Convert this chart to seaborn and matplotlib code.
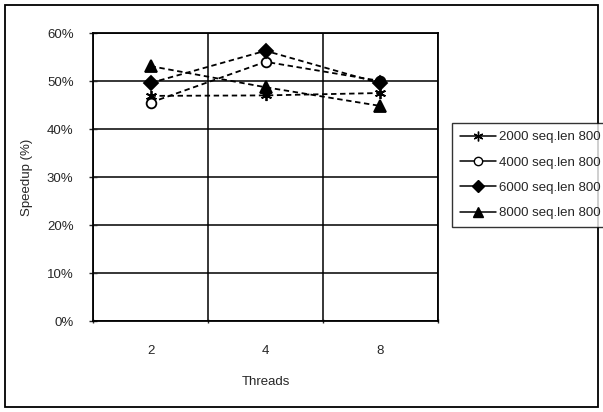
import matplotlib
matplotlib.use("Agg")
import matplotlib.pyplot as plt
from matplotlib.lines import Line2D
from matplotlib.patches import Rectangle
from matplotlib.ticker import FixedLocator, FuncFormatter
import seaborn as sns
import pandas as pd

# Speedup per thread count for four sequence-count configurations
threads = ["2", "4", "8"]
series_labels = ["2000 seq.len 800", "4000 seq.len 800",
                 "6000 seq.len 800", "8000 seq.len 800"]
speedup_2000 = [46.9, 47.0, 47.5]
speedup_4000 = [45.5, 54.0, 50.0]
speedup_6000 = [49.6, 56.3, 49.5]
speedup_8000 = [53.1, 48.7, 44.8]
y_ticks = [0, 10, 20, 30, 40, 50, 60]

values = [speedup_2000, speedup_4000, speedup_6000, speedup_8000]
markers = [(6, 2, 0), "o", "D", "^"]
marker_sizes = [8, 7, 7.5, 8]
face_colors = ["black", "white", "black", "black"]

rows = []
for lab, vals in zip(series_labels, values):
    for t, v in zip(threads, vals):
        rows.append({"Threads": t, "Speedup": v, "series": lab})
df = pd.DataFrame(rows)

sns.set_style("white")
plt.rcParams["font.family"] = ["Liberation Sans", "DejaVu Sans"]

fig = plt.figure(figsize=(6.03, 4.12), dpi=100)
ax = fig.add_axes([93 / 603, 1 - 321 / 412, (438 - 93) / 603, (321 - 33) / 412])

for lab, mk, ms, fc in zip(series_labels, markers, marker_sizes, face_colors):
    sub = df[df["series"] == lab]
    sns.lineplot(data=sub, x="Threads", y="Speedup", ax=ax, color="black",
                 linestyle=(0, (3, 2)), linewidth=1.3, marker=mk, markersize=ms,
                 markerfacecolor=fc, markeredgecolor="black", markeredgewidth=1.3,
                 legend=False, sort=False)

ax.set_xlim(-0.5, 2.5)
ax.set_ylim(0, 60)
ax.yaxis.set_major_locator(FixedLocator(y_ticks))
ax.yaxis.set_major_formatter(FuncFormatter(lambda v, p: f"{int(v)}%"))
ax.set_xticks(range(len(threads)))
ax.set_xticklabels(threads)
ax.xaxis.set_minor_locator(FixedLocator([-0.5, 0.5, 1.5, 2.5]))
ax.tick_params(axis="x", which="major", length=0, labelsize=9.5, pad=17)
ax.tick_params(axis="x", which="minor", length=3, width=1, direction="inout",
               bottom=True)
ax.tick_params(axis="y", which="major", length=6, width=1, direction="inout",
               left=True, labelsize=9.5, pad=11)

ax.grid(True, axis="y", which="major", color="black", linewidth=1.1)
ax.grid(True, axis="x", which="minor", color="black", linewidth=1.1)
ax.grid(False, axis="x", which="major")
for s in ax.spines.values():
    s.set_visible(True)
    s.set_color("black")
    s.set_linewidth(1.3)

ax.set_xlabel("Threads", fontsize=9.5, labelpad=14)
ax.set_ylabel("Speedup (%)", fontsize=9.5, labelpad=10)

handles = [Line2D([0], [0], color="black", linewidth=1.1, marker=mk,
                  markersize=ms - 1, markerfacecolor=fc, markeredgecolor="black")
           for mk, ms, fc in zip(markers, marker_sizes, face_colors)]
leg = fig.legend(handles, series_labels, loc="upper left",
                 bbox_to_anchor=(452 / 603, 1 - 123 / 412), fontsize=9.5,
                 frameon=True, fancybox=False, handlelength=2.7,
                 handletextpad=0.25, labelspacing=1.0, borderpad=0.6,
                 borderaxespad=0)
leg.get_frame().set_edgecolor("black")
leg.get_frame().set_linewidth(1.0)

# outer chart border
fig.patches.append(Rectangle((5 / 603, 5 / 412), 593 / 603, 402 / 412,
                             transform=fig.transFigure, fill=False,
                             edgecolor="black", linewidth=1.3))

fig.savefig("out.png", dpi=100)
